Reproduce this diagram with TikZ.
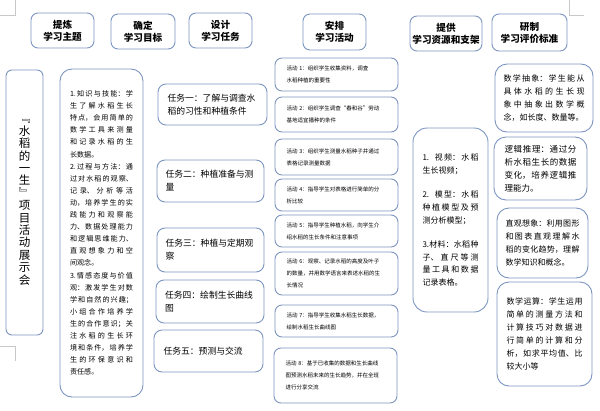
\documentclass[tikz,border=0pt]{standalone}
\usepackage{fontspec}
\setmainfont{Noto Sans CJK SC}
\usepackage{xcolor}
\usepackage{tikz}
\XeTeXlinebreaklocale "zh"
\XeTeXlinebreakskip=0pt plus 1pt
\definecolor{cEdge}{HTML}{7D95C1}
\definecolor{cMark}{HTML}{C8C8C8}
\tikzset{
  card/.style={rounded corners=#1, draw=cEdge, line width=0.9pt, fill=white,
               text=black, inner sep=0pt},
  card/.default=7pt,
  headbox/.style={card, align=center, font=\fontsize{9.6}{12}\selectfont\bfseries},
  themebox/.style={card=6pt, align=center, font=\fontsize{11.5}{12.4}\selectfont},
  goalbox/.style={card=12pt, align=justify, text width=63pt,
                  font=\fontsize{7.1}{12.1}\selectfont},
  taskbox/.style={card=8pt, align=left, text width=90pt,
                  font=\fontsize{8.8}{13}\selectfont},
  actbox/.style={card=7pt, align=left, text width=100pt, minimum width=123pt,
                 font=\fontsize{5.5}{12}\selectfont},
  kitbox/.style={card=14pt, align=justify, text width=56pt,
                 font=\fontsize{8}{12.6}\selectfont},
  evalbox/.style={card=12pt, align=justify, font=\fontsize{8}{13}\selectfont},
  cropmark/.style={draw=cMark, line width=0.6pt},
}
\begin{document}
\begin{tikzpicture}[x=1pt, y=-1pt]
  \useasboundingbox (0,0) rectangle (600,410);

  \node[headbox, minimum width=63pt, minimum height=35pt] (topic) at (62.5,30.5) {提炼\\学习主题};
  \node[headbox, minimum width=64pt, minimum height=35pt] (goal) at (143,31.5) {确定\\学习目标};
  \node[headbox, minimum width=63pt, minimum height=35pt] (task) at (220.5,30.5) {设计\\学习任务};
  \node[headbox, minimum width=63pt, minimum height=36pt] (act) at (334.5,32) {安排\\学习活动};
  \node[headbox, minimum width=72pt, minimum height=35pt] (kit) at (446,33.5) {提供\\学习资源和支架};
  \node[headbox, minimum width=75pt, minimum height=37pt] (eval) at (529.5,32.5) {研制\\学习评价标准};

  \node[themebox, minimum width=37pt, minimum height=265pt] (theme) at (24.5,202.5)
    {﹃\\水\\稻\\的\\一\\生\\﹄\\项\\目\\活\\动\\展\\示\\会};

  \node[goalbox, minimum width=83pt, minimum height=328pt] (aims) at (101.5,233)
    {1.知识与技能：学\linebreak
     生了解水稻生长\linebreak
     特点，会用简单的\linebreak
     数学工具来测量\linebreak
     和记录水稻的生\linebreak
     长数据。\par
     2.过程与方法：通\linebreak
     过对水稻的观察、\linebreak
     记录、分析等活\linebreak
     动，培养学生的实\linebreak
     践能力和观察能\linebreak
     力、数据处理能力\linebreak
     和逻辑思维能力、\linebreak
     直观想象力和空\linebreak
     间观念。\par
     3.情感态度与价值\linebreak
     观：激发学生对数\linebreak
     学和自然的兴趣；\linebreak
     小组合作培养学\linebreak
     生的合作意识；关\linebreak
     注水稻的生长环\linebreak
     境和条件，培养学\linebreak
     生的环保意识和\linebreak
     责任感。};

  \node[taskbox, minimum width=109pt, minimum height=41pt] (t1) at (212.5,104.5) {任务一：了解与调查水\\稻的习性和种植条件};
  \node[taskbox, minimum width=107pt, minimum height=42pt] (t2) at (210.5,181) {任务二：种植准备与测\\量};
  \node[taskbox, minimum width=107pt, minimum height=44pt] (t3) at (210.5,250) {任务三：种植与定期观\\察};
  \node[taskbox, minimum width=108pt, minimum height=43pt] (t4) at (210,301.5) {任务四：绘制生长曲线\\图};
  \node[taskbox, minimum width=109pt, minimum height=42pt] (t5) at (208.5,351) {任务五：预测与交流};

  \node[actbox, minimum height=33pt] (a1) at (336.5,74.5) {活动 1：组织学生收集资料，调查\\水稻种植的重要性};
  \node[actbox, minimum height=35pt] (a2) at (336.5,114.5) {活动 2：组织学生调查“春和谷”劳动\\基地适宜播种的条件};
  \node[actbox, minimum height=36pt] (a3) at (336.5,157) {活动 3：组织学生测量水稻种子并通过\\表格记录测量数据};
  \node[actbox, minimum height=32pt] (a4) at (336.5,195) {活动 4：指导学生对表格进行简单的分\\析比较};
  \node[actbox, minimum height=32pt] (a5) at (336.5,231) {活动 5：指导学生种植水稻，向学生介\\绍水稻的生长条件和注意事项};
  \node[actbox, minimum height=43pt] (a6) at (336.5,273.5) {活动 6：观察、记录水稻的高度及叶子\\的数量，并用数学语言来表述水稻的生\\长情况};
  \node[actbox, minimum height=32pt] (a7) at (336.5,321) {活动 7：指导学生收集水稻生长数据，\\绘制水稻生长曲线图};
  \node[actbox, minimum height=55pt] (a8) at (335.5,375.5) {活动 8：基于已收集的数据和生长曲线\\图预测水稻未来的生长趋势，并在全班\\进行分享交流};

  \node[kitbox, minimum width=75pt, minimum height=184pt] (tools) at (450.5,220)
    {1.\ \ 视频：水稻\linebreak
     生长视频；\\[12pt]
     2.\ \ 模型：水稻\linebreak
     种植模型及预\linebreak
     测分析模型；\\[12pt]
     3.材料：水稻种\linebreak
     子、直尺等测\linebreak
     量工具和数据\linebreak
     记录表格。};

  \node[evalbox, text width=81pt, minimum width=98pt, minimum height=68pt] (e1) at (544,98)
    {数学抽象：学生能从\linebreak
     具体水稻的生长现\linebreak
     象中抽象出数学概\linebreak
     念，如长度、数量等。};
  \node[evalbox, text width=72pt, minimum width=93pt, minimum height=63pt,
        font=\fontsize{8.5}{13}\selectfont] (e2) at (540.5,168.5)
    {逻辑推理：通过分\linebreak
     析水稻生长的数据\linebreak
     变化，培养逻辑推\linebreak
     理能力。};
  \node[evalbox, text width=74pt, minimum width=91pt, minimum height=70pt] (e3) at (542.5,243)
    {直观想象：利用图形\linebreak
     和图表直观理解水\linebreak
     稻的变化趋势，理解\linebreak
     数学知识和概念。};
  \node[evalbox, text width=76pt, minimum width=95pt, minimum height=104pt] (e4) at (544.5,334)
    {数学运算：学生运用\linebreak
     简单的测量方法和\linebreak
     计算技巧对数据进\linebreak
     行简单的计算和分\linebreak
     析，如求平均值、比\linebreak
     较大小等};

  \draw[cropmark] (15,0) -- (15,15) -- (0,15);
  \draw[cropmark] (569,0) -- (569,15) -- (584,15);
  \draw[cropmark] (0,346) -- (15,346) -- (15,361);
\end{tikzpicture}
\end{document}
